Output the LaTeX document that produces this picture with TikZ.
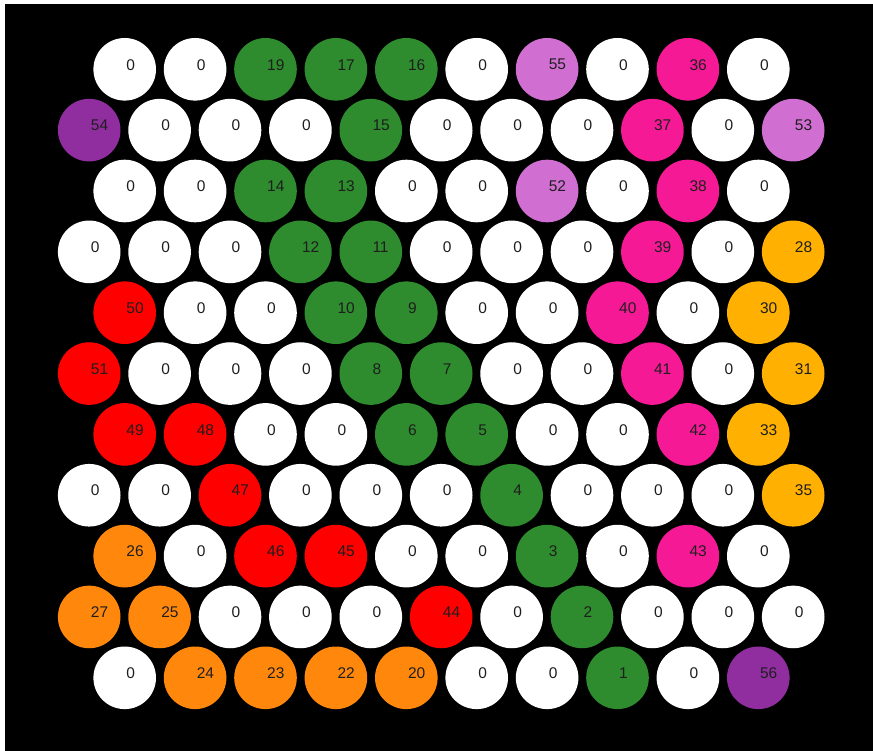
\documentclass[tikz,border=0pt]{standalone}
\usepackage{fontspec}
\setmainfont{Liberation Sans}
\definecolor{cW}{RGB}{255,255,255}
\definecolor{cG}{RGB}{46,140,46}
\definecolor{cL}{RGB}{208,110,210}
\definecolor{cP}{RGB}{245,25,150}
\definecolor{cD}{RGB}{144,46,160}
\definecolor{cR}{RGB}{255,0,0}
\definecolor{cY}{RGB}{255,176,0}
\definecolor{cO}{RGB}{255,136,12}
\definecolor{txt}{RGB}{30,30,30}
\tikzset{
  ball/.style={circle, minimum size=62.6pt, inner sep=0pt, draw=none},
  lab/.style={anchor=west, inner sep=0pt, text=txt, font=\fontsize{15.5}{15.5}\selectfont}
}
\begin{document}
\begin{tikzpicture}[x=1pt,y=-1pt]
\useasboundingbox (0,0) rectangle (873,751);
\fill[white] (0,0) rectangle (873,751);
\fill[black] (5,4) rectangle (873,751);
\foreach \row [count=\r from 0] in {
 {0/W,0/W,19/G,17/G,16/G,0/W,55/L,0/W,36/P,0/W},
 {54/D,0/W,0/W,0/W,15/G,0/W,0/W,0/W,37/P,0/W,53/L},
 {0/W,0/W,14/G,13/G,0/W,0/W,52/L,0/W,38/P,0/W},
 {0/W,0/W,0/W,12/G,11/G,0/W,0/W,0/W,39/P,0/W,28/Y},
 {50/R,0/W,0/W,10/G,9/G,0/W,0/W,40/P,0/W,30/Y},
 {51/R,0/W,0/W,0/W,8/G,7/G,0/W,0/W,41/P,0/W,31/Y},
 {49/R,48/R,0/W,0/W,6/G,5/G,0/W,0/W,42/P,33/Y},
 {0/W,0/W,47/R,0/W,0/W,0/W,4/G,0/W,0/W,0/W,35/Y},
 {26/O,0/W,46/R,45/R,0/W,0/W,3/G,0/W,43/P,0/W},
 {27/O,25/O,0/W,0/W,0/W,44/R,0/W,2/G,0/W,0/W,0/W},
 {0/W,24/O,23/O,22/O,20/O,0/W,0/W,1/G,0/W,56/D}}{
  \pgfmathsetmacro\xo{mod(\r,2)==0 ? 124.7 : 89.2}
  \foreach \lab/\col [count=\i from 0] in \row {
    \node[ball, fill=c\col] (n-\r-\i) at ({\xo+\i*70.4},{69.3+\r*60.85}) {};
    \node[lab] (t-\r-\i) at ([xshift=1.5pt,yshift=4.6pt]n-\r-\i.center) {\lab};
  }
}
\end{tikzpicture}
\end{document}
